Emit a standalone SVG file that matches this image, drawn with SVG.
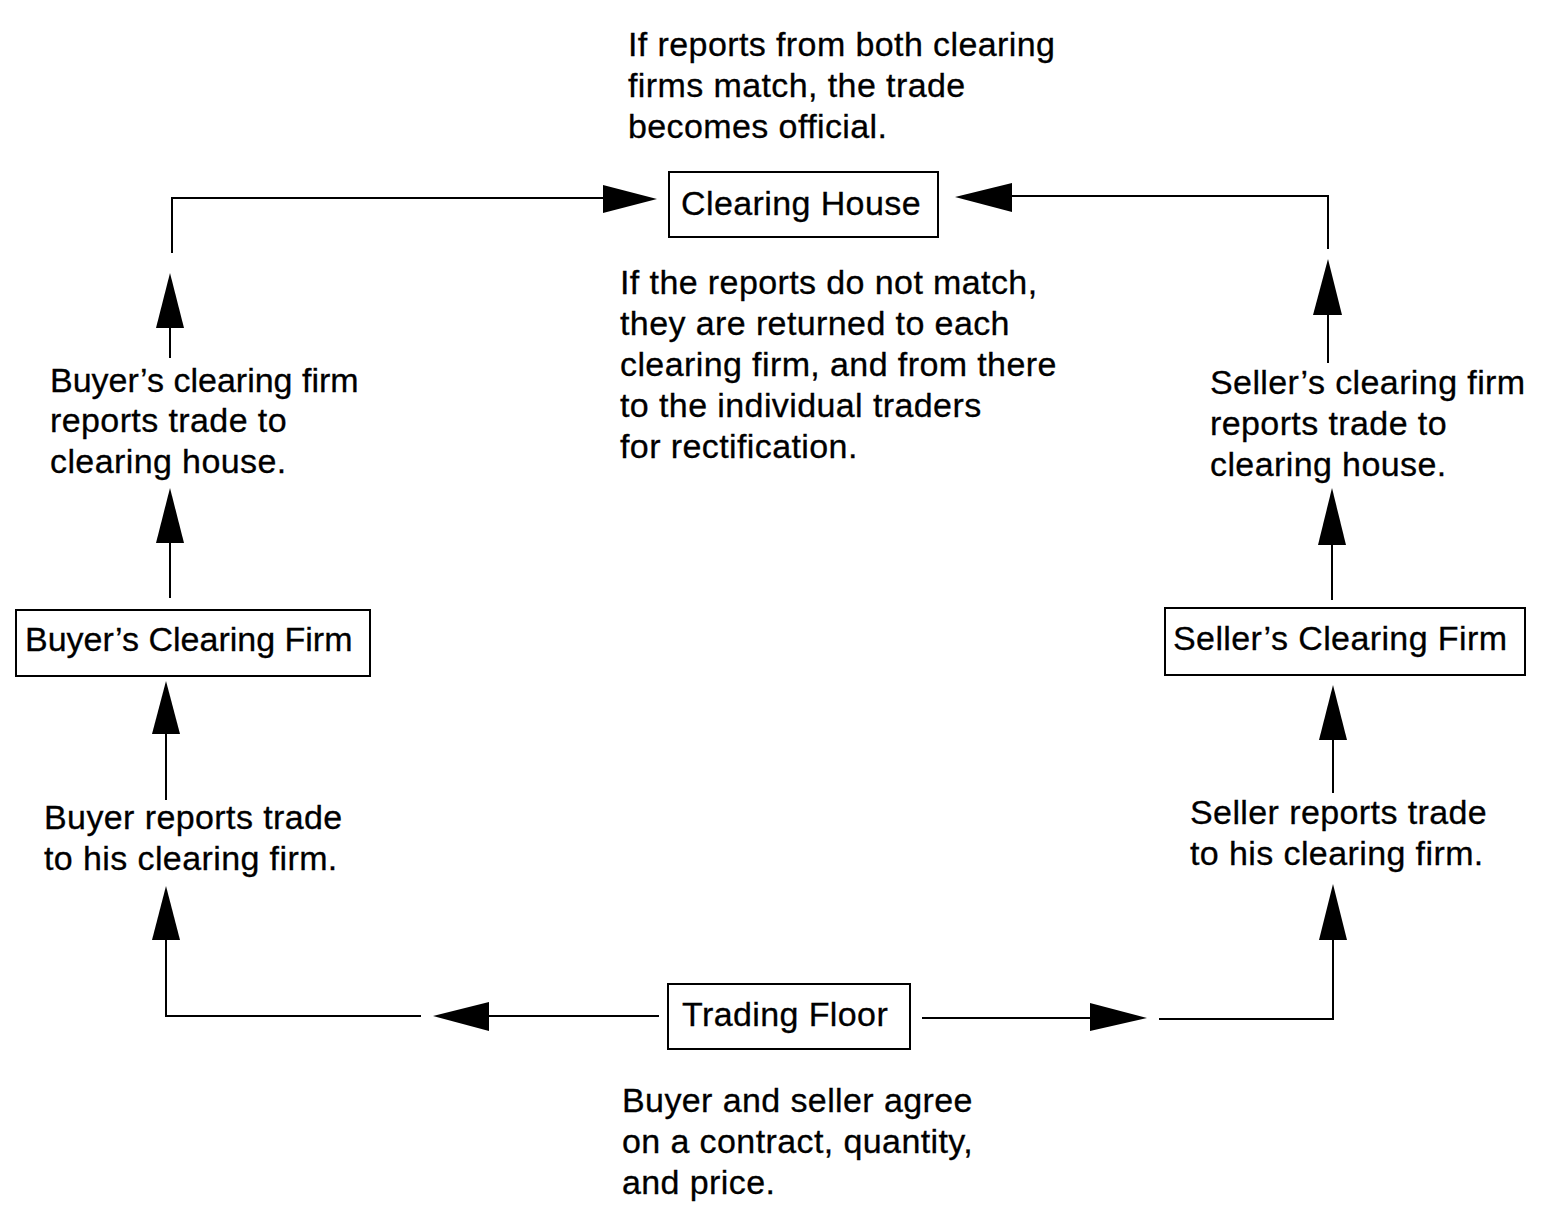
<svg xmlns="http://www.w3.org/2000/svg" width="1546" height="1220" viewBox="0 0 1546 1220">
<style>
text{font-family:"Liberation Sans",Arial,sans-serif;font-size:34px;letter-spacing:0.4px;fill:#000;stroke:#000;stroke-width:0.3}
.tight{letter-spacing:0px}
.box{fill:#fff;stroke:#000;stroke-width:2}
.ln{fill:none;stroke:#000;stroke-width:2}
.ah{fill:#000;stroke:none}
</style>
<rect width="1546" height="1220" fill="#fff"/>
<g id="connectors">
<polyline class="ln" points="172,253 172,198 604,198"/>
<polygon class="ah" points="603,185 657,199 603,213"/>
<line class="ln" x1="170" y1="326" x2="170" y2="358"/>
<polygon class="ah" points="170,273 184,328 156,328"/>
<line class="ln" x1="170" y1="541" x2="170" y2="598"/>
<polygon class="ah" points="170,488 184,543 156,543"/>
<line class="ln" x1="166" y1="732" x2="166" y2="800"/>
<polygon class="ah" points="166,681 180,734 152,734"/>
<polyline class="ln" points="166,938 166,1016 421,1016"/>
<polygon class="ah" points="166,886 180,940 152,940"/>
<polygon class="ah" points="433,1016 489,1002 489,1031"/>
<line class="ln" x1="488" y1="1016" x2="659" y2="1016"/>
<line class="ln" x1="922" y1="1018" x2="1091" y2="1018"/>
<polygon class="ah" points="1090,1003 1147,1018 1090,1031"/>
<polyline class="ln" points="1159,1019 1333,1019 1333,938"/>
<polygon class="ah" points="1333,884 1347,940 1319,940"/>
<line class="ln" x1="1333" y1="738" x2="1333" y2="793"/>
<polygon class="ah" points="1333,685 1347,740 1319,740"/>
<line class="ln" x1="1332" y1="543" x2="1332" y2="600"/>
<polygon class="ah" points="1332,488 1346,545 1318,545"/>
<line class="ln" x1="1328" y1="313" x2="1328" y2="363"/>
<polygon class="ah" points="1328,259 1342,315 1313,315"/>
<polyline class="ln" points="1328,249 1328,196 1011,196"/>
<polygon class="ah" points="1012,183 955,197 1012,212"/>
</g>
<g id="note-top">
<text x="628" y="56">If reports from both clearing</text>
<text x="628" y="97">firms match, the trade</text>
<text x="628" y="138">becomes official.</text>
</g>
<g id="clearing-house">
<rect class="box" x="669" y="172" width="269" height="65"/>
<text x="681" y="215">Clearing House</text>
</g>
<g id="note-mismatch">
<text x="620" y="294">If the reports do not match,</text>
<text x="620" y="335">they are returned to each</text>
<text x="620" y="376">clearing firm, and from there</text>
<text x="620" y="417">to the individual traders</text>
<text x="620" y="458">for rectification.</text>
</g>
<g id="buyer-firm-report">
<text x="50" y="392" class="tight">Buyer’s clearing firm</text>
<text x="50" y="432">reports trade to</text>
<text x="50" y="473">clearing house.</text>
</g>
<g id="seller-firm-report">
<text x="1210" y="394">Seller’s clearing firm</text>
<text x="1210" y="435">reports trade to</text>
<text x="1210" y="476">clearing house.</text>
</g>
<g id="buyers-clearing-firm">
<rect class="box" x="16" y="610" width="354" height="66"/>
<text x="25" y="651" class="tight">Buyer’s Clearing Firm</text>
</g>
<g id="sellers-clearing-firm">
<rect class="box" x="1165" y="608" width="360" height="67"/>
<text x="1173" y="650">Seller’s Clearing Firm</text>
</g>
<g id="buyer-report">
<text x="44" y="829">Buyer reports trade</text>
<text x="44" y="870">to his clearing firm.</text>
</g>
<g id="seller-report">
<text x="1190" y="824">Seller reports trade</text>
<text x="1190" y="865">to his clearing firm.</text>
</g>
<g id="trading-floor">
<rect class="box" x="668" y="984" width="242" height="65"/>
<text x="682" y="1026">Trading Floor</text>
</g>
<g id="note-bottom">
<text x="622" y="1112">Buyer and seller agree</text>
<text x="622" y="1153">on a contract, quantity,</text>
<text x="622" y="1194">and price.</text>
</g>
</svg>
